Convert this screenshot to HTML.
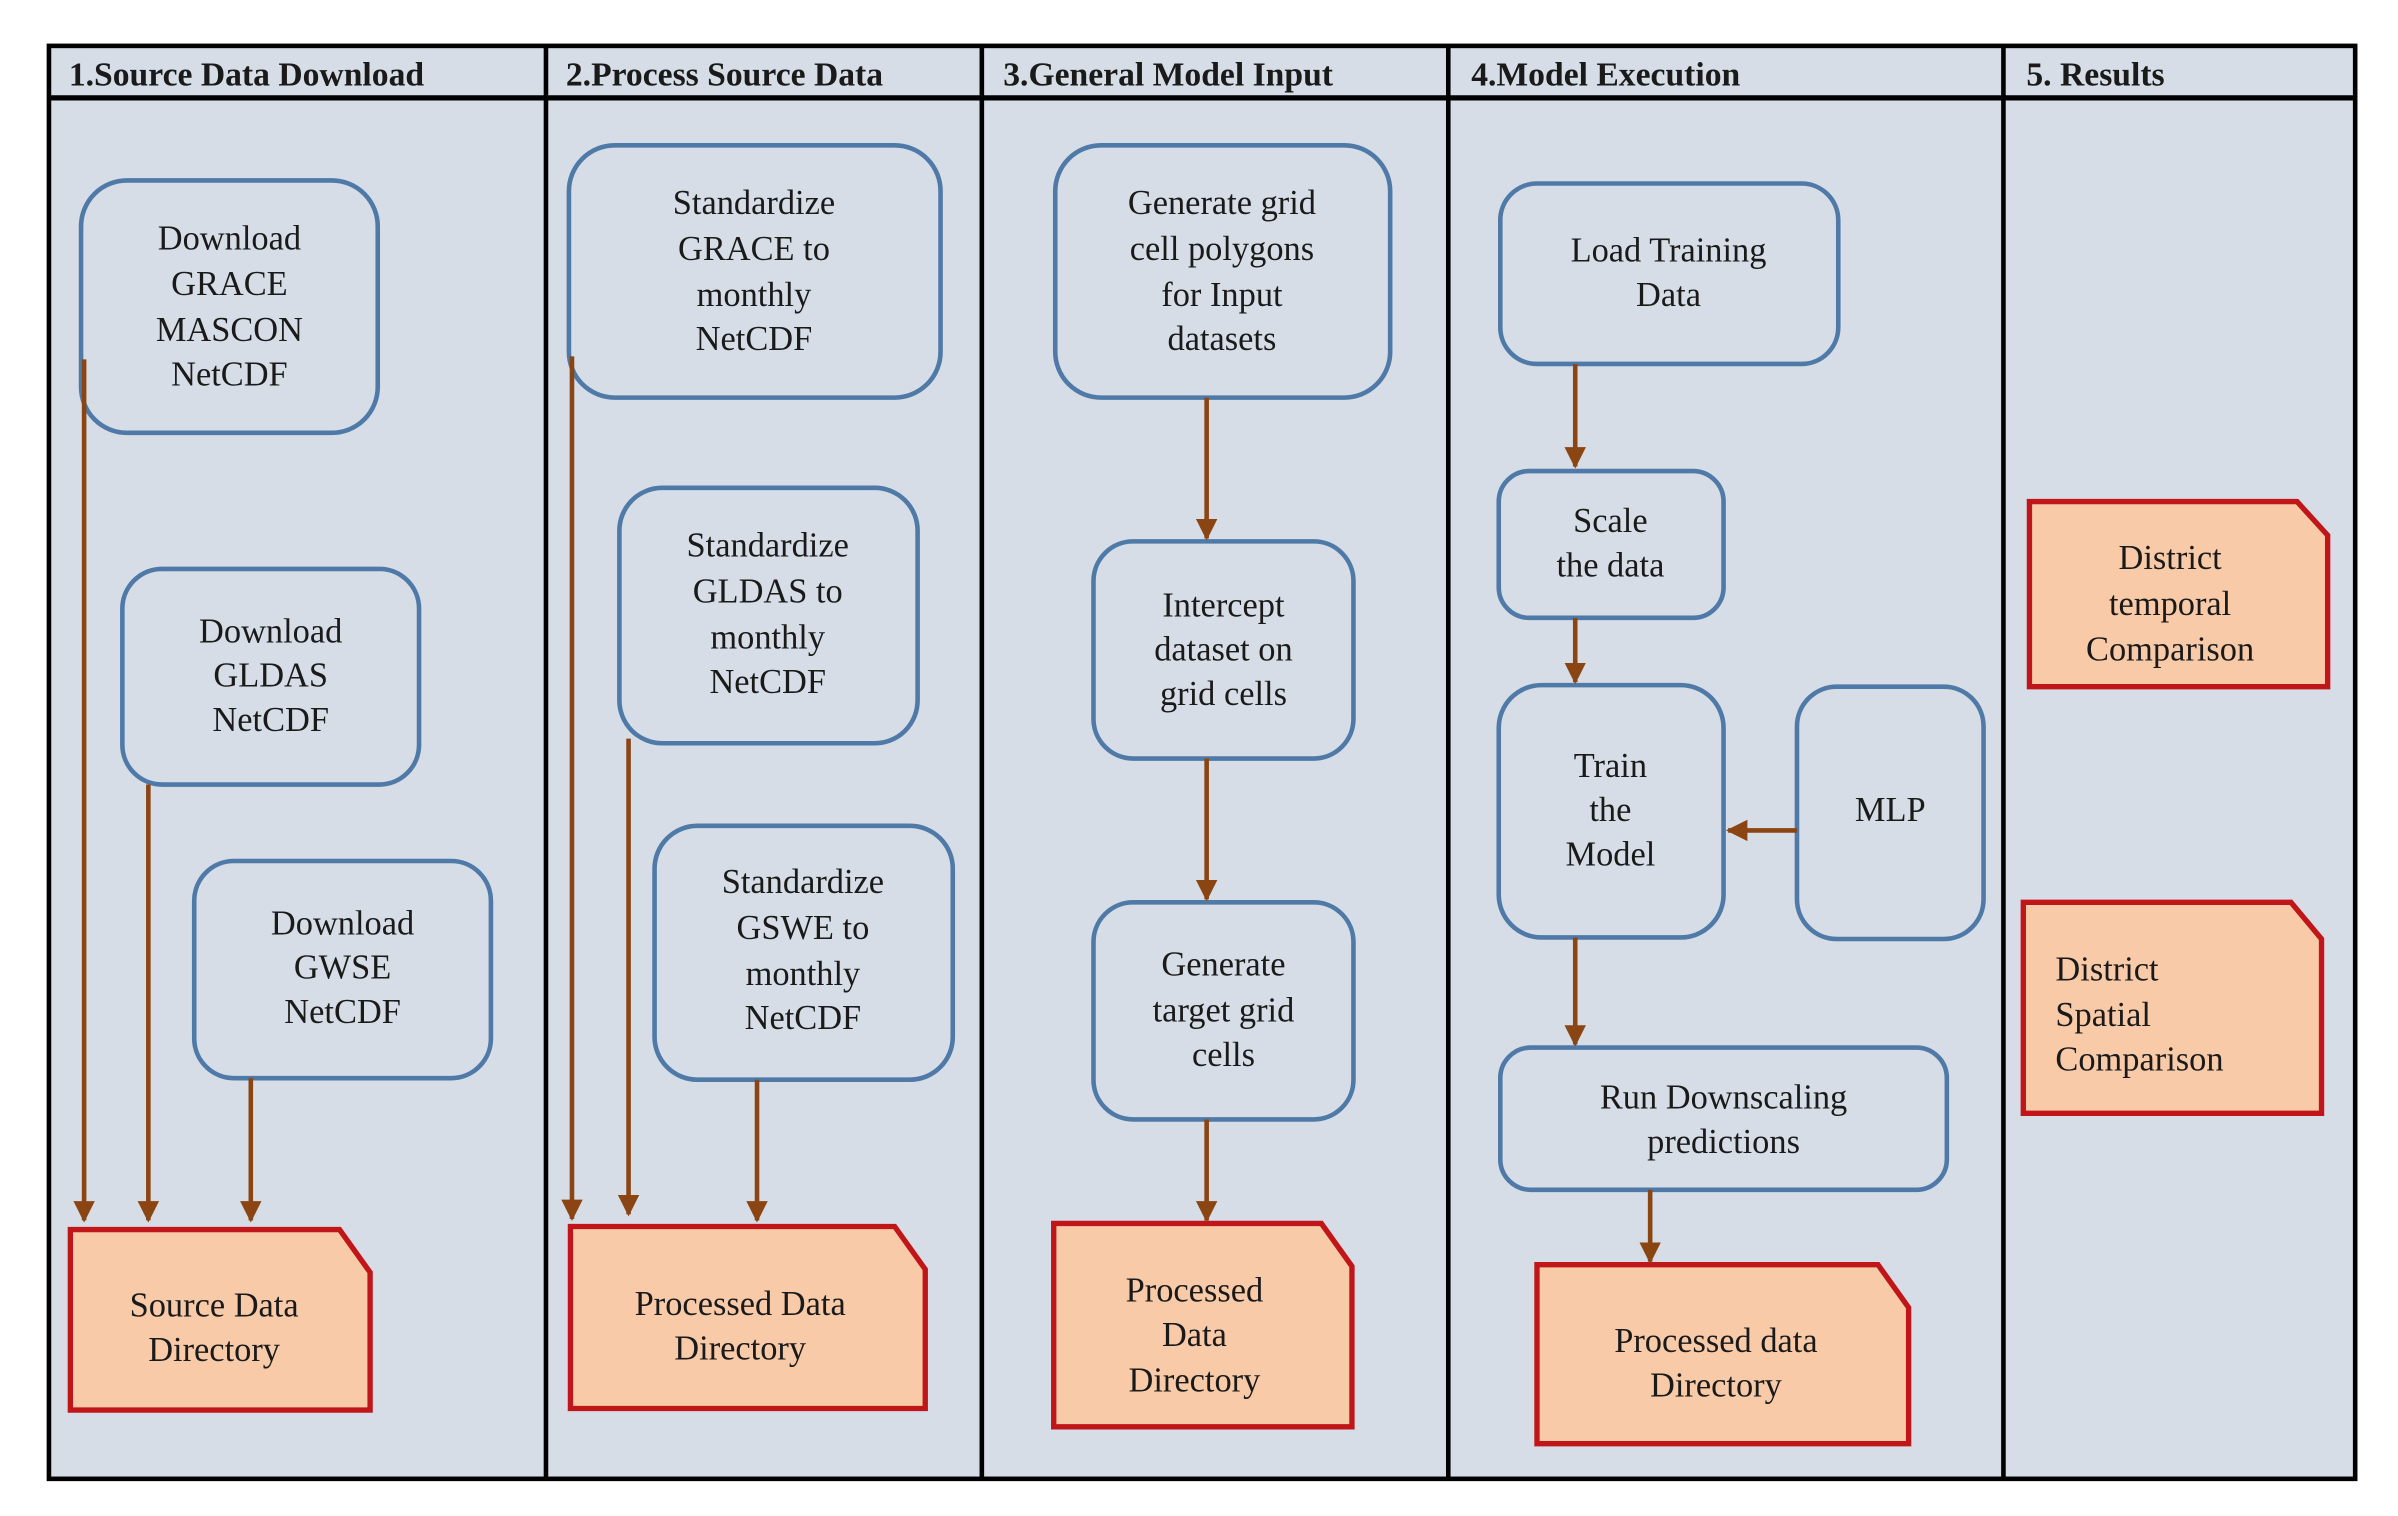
<!DOCTYPE html>
<html><head><meta charset="utf-8"><style>
html,body{margin:0;padding:0;background:#fff}
svg{display:block}
text{font-family:"Liberation Serif","Tinos","Times New Roman","Nimbus Roman","DejaVu Serif",serif;font-size:22.5px;fill:#1a1a1a;text-anchor:middle}
.h{font-weight:bold;text-anchor:start;font-size:22px}
.b{fill:none;stroke:#4f7aa8;stroke-width:3}
.d{fill:#f8caa8;stroke:#c0161a;stroke-width:3.5}
.a{stroke:#8b4513;stroke-width:3;fill:none}
</style></head><body>
<svg width="2398" height="1516" viewBox="0 0 1568 991.3" preserveAspectRatio="none">
<defs>
<marker id="ar" viewBox="0 0 10 10" refX="9" refY="5" markerWidth="14" markerHeight="14" markerUnits="userSpaceOnUse" orient="auto"><path d="M0,0 L10,5 L0,10 Z" fill="#8b4513"/></marker></defs>
<rect x="32" y="30" width="1508" height="937" fill="#d6dde6" stroke="#000" stroke-width="3"/>
<line x1="32" y1="64" x2="1540" y2="64" stroke="#000" stroke-width="3.5"/>
<g stroke="#000" stroke-width="3"><line x1="357" y1="30" x2="357" y2="967"/><line x1="642" y1="30" x2="642" y2="967"/><line x1="947" y1="30" x2="947" y2="967"/><line x1="1310" y1="30" x2="1310" y2="967"/></g>
<text class="h" x="45" y="56">1.Source Data Download</text>
<text class="h" x="370" y="56">2.Process Source Data</text>
<text class="h" x="656" y="56">3.General Model Input</text>
<text class="h" x="962" y="56">4.Model Execution</text>
<text class="h" x="1325" y="56">5. Results</text>

<rect class="b" x="53" y="118" width="194" height="165" rx="30"/>
<text x="150" y="163">Download</text><text x="150" y="193">GRACE</text><text x="150" y="223">MASCON</text><text x="150" y="252">NetCDF</text>
<rect class="b" x="80" y="372" width="194" height="141" rx="26"/>
<text x="177" y="420">Download</text><text x="177" y="449">GLDAS</text><text x="177" y="478">NetCDF</text>
<rect class="b" x="127" y="563" width="194" height="142" rx="26"/>
<text x="224" y="611">Download</text><text x="224" y="640">GWSE</text><text x="224" y="669">NetCDF</text>
<path class="d" d="M46,804 H222 L242,832 V922 H46 Z"/>
<text x="140" y="861">Source Data</text><text x="140" y="890">Directory</text>
<line class="a" x1="55" y1="235" x2="55" y2="798" marker-end="url(#ar)"/>
<line class="a" x1="97" y1="513" x2="97" y2="798" marker-end="url(#ar)"/>
<line class="a" x1="164" y1="705" x2="164" y2="798" marker-end="url(#ar)"/>

<rect class="b" x="372" y="95" width="243" height="165" rx="30"/>
<text x="493" y="140">Standardize</text><text x="493" y="170">GRACE to</text><text x="493" y="200">monthly</text><text x="493" y="229">NetCDF</text>
<rect class="b" x="405" y="319" width="195" height="167" rx="28"/>
<text x="502" y="364">Standardize</text><text x="502" y="394">GLDAS to</text><text x="502" y="424">monthly</text><text x="502" y="453">NetCDF</text>
<rect class="b" x="428" y="540" width="195" height="166" rx="28"/>
<text x="525" y="584">Standardize</text><text x="525" y="614">GSWE to</text><text x="525" y="644">monthly</text><text x="525" y="673">NetCDF</text>
<path class="d" d="M373,802 H585 L605,830 V921 H373 Z"/>
<text x="484" y="860">Processed Data</text><text x="484" y="889">Directory</text>
<line class="a" x1="374" y1="233" x2="374" y2="797" marker-end="url(#ar)"/>
<line class="a" x1="411" y1="483" x2="411" y2="794" marker-end="url(#ar)"/>
<line class="a" x1="495" y1="706" x2="495" y2="798" marker-end="url(#ar)"/>

<rect class="b" x="690" y="95" width="219" height="165" rx="30"/>
<text x="799" y="140">Generate grid</text><text x="799" y="170">cell polygons</text><text x="799" y="200">for Input</text><text x="799" y="229">datasets</text>
<rect class="b" x="715" y="354" width="170" height="142" rx="26"/>
<text x="800" y="403">Intercept</text><text x="800" y="432">dataset on</text><text x="800" y="461">grid cells</text>
<rect class="b" x="715" y="590" width="170" height="142" rx="26"/>
<text x="800" y="638">Generate</text><text x="800" y="668">target grid</text><text x="800" y="697">cells</text>
<path class="d" d="M689,800 H864 L884,828 V933 H689 Z"/>
<text x="781" y="851">Processed</text><text x="781" y="880">Data</text><text x="781" y="910">Directory</text>
<line class="a" x1="789" y1="260" x2="789" y2="352" marker-end="url(#ar)"/>
<line class="a" x1="789" y1="496" x2="789" y2="588" marker-end="url(#ar)"/>
<line class="a" x1="789" y1="732" x2="789" y2="798" marker-end="url(#ar)"/>

<rect class="b" x="981" y="120" width="221" height="118" rx="24"/>
<text x="1091" y="171">Load Training</text><text x="1091" y="200">Data</text>
<rect class="b" x="980" y="308" width="147" height="96" rx="20"/>
<text x="1053" y="348">Scale</text><text x="1053" y="377">the data</text>
<rect class="b" x="980" y="448" width="147" height="165" rx="28"/>
<text x="1053" y="508">Train</text><text x="1053" y="537">the</text><text x="1053" y="566">Model</text>
<rect class="b" x="1175" y="449" width="122" height="165" rx="26"/>
<text x="1236" y="537">MLP</text>
<rect class="b" x="981" y="685" width="292" height="93" rx="20"/>
<text x="1127" y="725">Run Downscaling</text><text x="1127" y="754">predictions</text>
<path class="d" d="M1005,827 H1228 L1248,855 V944 H1005 Z"/>
<text x="1122" y="884">Processed data</text><text x="1122" y="913">Directory</text>
<line class="a" x1="1030" y1="238" x2="1030" y2="305" marker-end="url(#ar)"/>
<line class="a" x1="1030" y1="404" x2="1030" y2="446" marker-end="url(#ar)"/>
<line class="a" x1="1030" y1="613" x2="1030" y2="683" marker-end="url(#ar)"/>
<line class="a" x1="1079" y1="778" x2="1079" y2="825" marker-end="url(#ar)"/>
<line class="a" x1="1175" y1="543" x2="1130" y2="543" marker-end="url(#ar)"/>

<path class="d" d="M1327,328 H1502 L1522,350 V449 H1327 Z"/>
<text x="1419" y="372">District</text><text x="1419" y="402">temporal</text><text x="1419" y="432">Comparison</text>
<path class="d" d="M1323,590 H1498 L1518,614 V728 H1323 Z"/>
<text x="1344" y="641" style="text-anchor:start">District</text><text x="1344" y="671" style="text-anchor:start">Spatial</text><text x="1344" y="700" style="text-anchor:start">Comparison</text>
</svg>
</body></html>
